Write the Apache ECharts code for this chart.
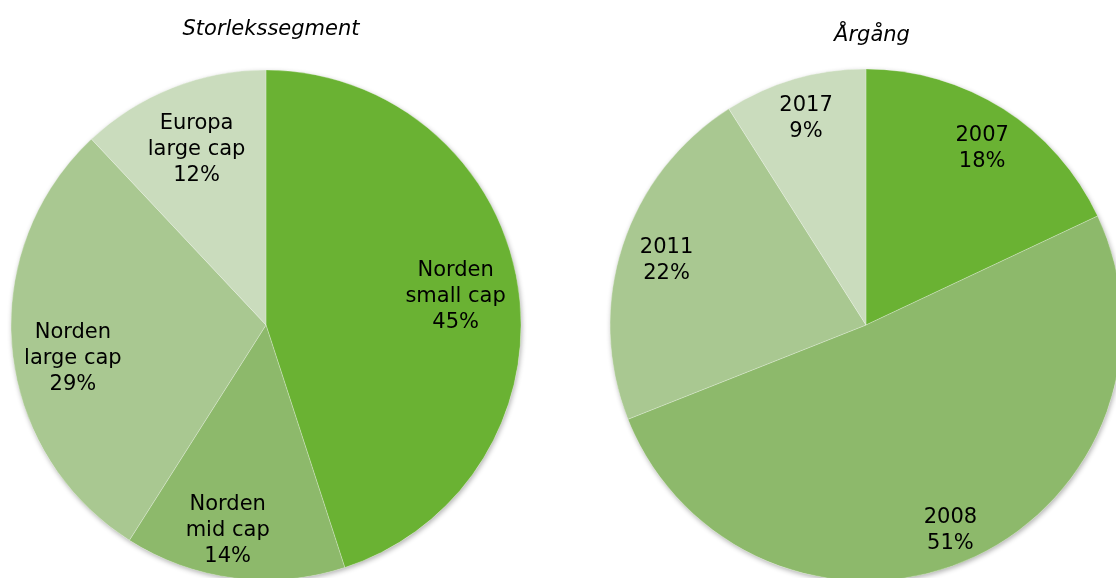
<!DOCTYPE html>
<html>
<head>
<meta charset="utf-8">
<script src="https://cdn.jsdelivr.net/npm/echarts@6/dist/echarts.min.js"></script>
<style>
  html, body { margin: 0; padding: 0; background: #fff; }
  #chart { width: 1116px; height: 578px; }
</style>
</head>
<body>
<div id="chart"></div>
<script>
// Storlekssegment
const sizeNames = ['Norden\nsmall cap', 'Norden\nmid cap', 'Norden\nlarge cap', 'Europa\nlarge cap'];
const sizeValues = [45, 14, 29, 12];

// Årgång
const yearNames = ['2007', '2008', '2011', '2017'];
const yearValues = [18, 51, 22, 9];

const colors = ['#6ab233', '#8db96b', '#a9c891', '#cadcbd'];

const chart = echarts.init(document.getElementById('chart'));

const labelStyle = {
    show: true,
    position: 'inside',
    color: '#000',
    fontFamily: 'DejaVu Sans',
    fontSize: 21,
    lineHeight: 26,
    formatter: p => p.name + '\n' + p.value + '%'
};

// soft drop shadow under the whole pie
function shadowSeries(center, radius) {
    return {
        type: 'pie',
        center: center,
        radius: radius,
        silent: true,
        animation: false,
        z: 1,
        label: { show: false },
        labelLine: { show: false },
        itemStyle: {
            color: '#fff',
            shadowBlur: 5,
            shadowColor: 'rgba(0,0,0,0.3)',
            shadowOffsetX: 1,
            shadowOffsetY: 2
        },
        data: [{ name: 'bg', value: 1 }]
    };
}

// slice series (no labels)
function pieSeries(names, values, center, radius) {
    return {
        type: 'pie',
        center: center,
        radius: radius,
        startAngle: 90,
        clockwise: true,
        silent: true,
        animation: false,
        z: 2,
        label: { show: false },
        labelLine: { show: false },
        itemStyle: {
            borderColor: 'rgba(255,255,255,0.3)',
            borderWidth: 0.8
        },
        data: names.map((n, i) => ({ name: n, value: values[i], itemStyle: { color: colors[i] } }))
    };
}

// transparent series only carrying labels (inside label sits at half the radius)
function labelSeries(names, values, center, radius, offsets) {
    return {
        type: 'pie',
        center: center,
        radius: [0, radius],
        startAngle: 90,
        clockwise: true,
        silent: true,
        animation: false,
        z: 5,
        label: labelStyle,
        labelLine: { show: false },
        itemStyle: { color: 'rgba(0,0,0,0)' },
        data: names.map((n, i) => ({
            name: n,
            value: values[i],
            label: { offset: offsets[i] }
        }))
    };
}

const titleText = { fontFamily: 'DejaVu Sans', fontStyle: 'italic', fontWeight: 'normal', fontSize: 21, color: '#000' };

const option = {
    backgroundColor: '#fff',
    title: [
        { text: 'Storlekssegment', left: 266, top: 14, textAlign: 'center', textStyle: titleText },
        { text: 'Årgång', left: 867, top: 20, textAlign: 'center', textStyle: titleText }
    ],
    series: [
        shadowSeries([266, 325], 255),
        pieSeries(sizeNames, sizeValues, [266, 325], 255),
        labelSeries(sizeNames, sizeValues, [266, 325], 382, [[-2, 2], [-14, 13], [0, 15], [2, 5]]),
        shadowSeries([866, 325], 256),
        pieSeries(yearNames, yearValues, [866, 325], 256),
        labelSeries(yearNames, yearValues, [866, 325], 424, [[1, 5], [-1, 8], [5, 2], [0, 0]])
    ]
};

chart.setOption(option);
</script>
</body>
</html>
